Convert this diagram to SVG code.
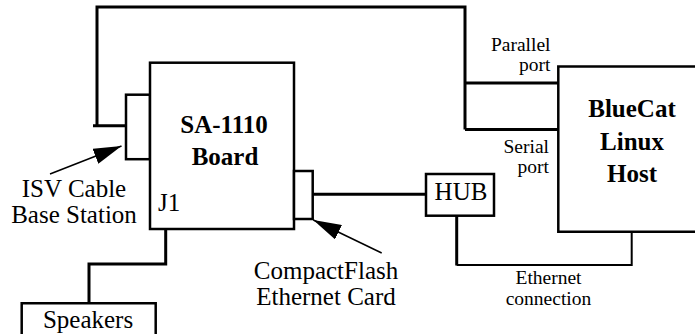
<svg xmlns="http://www.w3.org/2000/svg" width="695" height="334" viewBox="0 0 695 334">
<style>
.box{fill:#fff;stroke:#000;stroke-width:2.5}
.open{fill:none;stroke:#000;stroke-width:2.5}
.wire{fill:none;stroke:#000;stroke-width:3}
.thin{fill:none;stroke:#000;stroke-width:2}
.ptr{fill:none;stroke:#000;stroke-width:1.5}
text{font-family:"Liberation Serif","Times New Roman",serif;fill:#000}
.big{font-size:25px}
.bold{font-size:25px;font-weight:bold}
.small{font-size:19.5px}
.mid{text-anchor:middle}
.end{text-anchor:end}
</style>
<defs>
<marker id="ah" viewBox="0 0 28 16" refX="28" refY="8" markerWidth="28" markerHeight="16" markerUnits="userSpaceOnUse" orient="auto">
<path d="M0,0 L28,8 L0,16 z" fill="#000"/>
</marker>
</defs>
<g id="connectors">
<path class="wire" d="M93,125.7 H126 M97,125.7 V7 H465 V129.5 M465,83 H558 M465,129.5 H558"/>
<path class="wire" d="M313,194.3 H426"/>
<path class="wire" d="M456.7,216 V265.5"/>
<path class="thin" d="M456.7,265 H631.7 V231"/>
<path class="wire" d="M165.7,219 V264 H89 V303"/>
<line class="ptr" x1="50" y1="174" x2="121.5" y2="146" marker-end="url(#ah)"/>
<line class="ptr" x1="381.7" y1="253" x2="313.3" y2="220" marker-end="url(#ah)"/>
</g>
<g id="isv-port">
<rect class="box" x="126" y="94.7" width="24" height="64.5"/>
</g>
<g id="board">
<rect class="box" x="150" y="62.7" width="144" height="166.3"/>
<text class="bold mid" x="224" y="133">SA-1110</text>
<text class="bold mid" x="225" y="165">Board</text>
<text class="big" x="158" y="211">J1</text>
</g>
<g id="cf-card">
<rect class="box" x="294" y="171" width="18.7" height="48"/>
</g>
<g id="hub">
<rect class="box" x="426" y="174" width="68" height="41.7"/>
<text class="big mid" x="461" y="200">HUB</text>
</g>
<g id="host">
<path class="open" d="M696,66.5 H558.3 V231.7 H696"/>
<text class="bold mid" x="632" y="117">BlueCat</text>
<text class="bold mid" x="632" y="150">Linux</text>
<text class="bold mid" x="632" y="182">Host</text>
</g>
<g id="speakers">
<path class="open" d="M21.7,336 V303.3 H155.7 V336"/>
<text class="big mid" x="88" y="328">Speakers</text>
</g>
<g id="labels">
<text class="big mid" x="74" y="197">ISV Cable</text>
<text class="big mid" x="74" y="223.3">Base Station</text>
<text class="big mid" x="326" y="278.5">CompactFlash</text>
<text class="big mid" x="326" y="305">Ethernet Card</text>
<text class="small end" x="550.5" y="51">Parallel</text>
<text class="small end" x="550.5" y="70.7">port</text>
<text class="small end" x="549" y="152.5">Serial</text>
<text class="small end" x="549" y="173">port</text>
<text class="small mid" x="548.5" y="283.5">Ethernet</text>
<text class="small mid" x="548.5" y="305">connection</text>
</g>
</svg>
